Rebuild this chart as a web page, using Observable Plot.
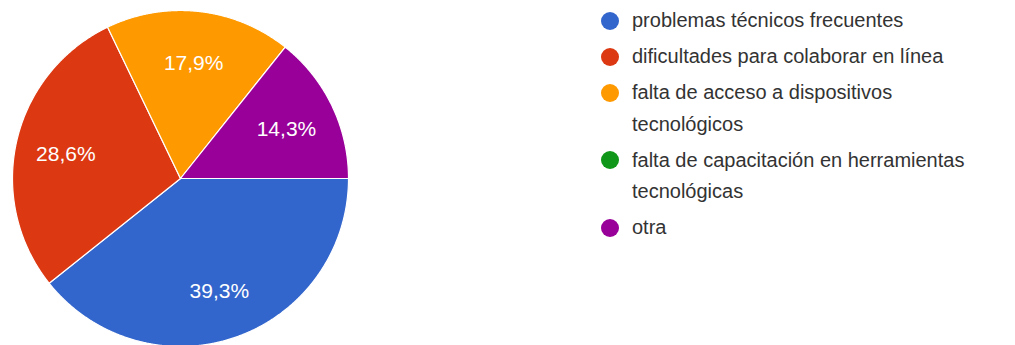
<!DOCTYPE html>
<html>
<head>
<meta charset="utf-8">
<script src="https://cdn.jsdelivr.net/npm/d3@7"></script>
<script src="https://cdn.jsdelivr.net/npm/@observablehq/plot@0.6"></script>
<style>
  html, body { margin: 0; padding: 0; background: #fff; }
  #wrap { position: relative; width: 1015px; height: 345px; overflow: hidden; font-family: Arial, "Liberation Sans", sans-serif; }
  #legend { position: absolute; left: 0; top: 0; }
  .sw { position: absolute; width: 18px; height: 18px; border-radius: 50%; }
  .lab { position: absolute; white-space: nowrap; font-size: 20px; color: #333; }
</style>
</head>
<body>
<div id="wrap"></div>
<script>
const categories = [
  "problemas técnicos frecuentes",
  "dificultades para colaborar en línea",
  "falta de acceso a dispositivos tecnológicos",
  "falta de capacitación en herramientas tecnológicas",
  "otra"
];
const counts = [11, 8, 5, 0, 4];
const percentLabels = ["39,3%", "28,6%", "17,9%", "0%", "14,3%"];
const colors = ["#3366cc", "#dc3912", "#ff9900", "#109618", "#990099"];
const legendLines = [
  ["problemas técnicos frecuentes"],
  ["dificultades para colaborar en línea"],
  ["falta de acceso a dispositivos", "tecnológicos"],
  ["falta de capacitación en herramientas", "tecnológicas"],
  ["otra"]
];

const data = categories.map((c, i) => ({cat: c, value: counts[i], label: percentLabels[i]}));
const arcs = d3.pie().sort(null).value(d => d.value)
  .startAngle(Math.PI / 2).endAngle(Math.PI / 2 + 2 * Math.PI)(data);

// polygon outline of each slice in unit-circle coordinates
const slicePts = [];
for (const a of arcs) {
  if (a.endAngle - a.startAngle <= 0) continue;
  slicePts.push({cat: a.data.cat, x: 0, y: 0});
  const n = Math.max(2, Math.ceil((a.endAngle - a.startAngle) / 0.005));
  for (let k = 0; k <= n; k++) {
    const t = a.startAngle + (a.endAngle - a.startAngle) * k / n;
    slicePts.push({cat: a.data.cat, x: Math.sin(t), y: Math.cos(t)});
  }
  slicePts.push({cat: a.data.cat, x: 0, y: 0});
}
const labelPts = arcs.filter(a => a.value > 0).map(a => {
  const m = (a.startAngle + a.endAngle) / 2;
  return {label: a.data.label, x: 0.7 * Math.sin(m), y: 0.7 * Math.cos(m)};
});

const chart = Plot.plot({
  width: 1015,
  height: 345,
  margin: 0,
  x: {domain: [-1, 1], range: [12, 348], axis: null},
  y: {domain: [-1, 1], range: [346, 10], axis: null},
  color: {domain: categories, range: colors},
  style: {background: "transparent", fontFamily: "Arial, 'Liberation Sans', sans-serif"},
  marks: [
    Plot.line(slicePts, {x: "x", y: "y", z: "cat", fill: "cat", stroke: "white", strokeWidth: 1.2, strokeLinejoin: "round"}),
    Plot.text(labelPts, {x: "x", y: "y", text: "label", fill: "white", fontSize: 21, dy: 2})
  ]
});
const wrap = document.getElementById("wrap");
wrap.appendChild(chart);

// legend (HTML overlay) using the chart's color scale
const colorScale = chart.scale("color");
const legend = document.createElement("div");
legend.id = "legend";
wrap.appendChild(legend);
const lineH = 31.5, gap = 4.5;
let yTop = 5;
categories.forEach((c, i) => {
  const lines = legendLines[i];
  const sw = document.createElement("div");
  sw.className = "sw";
  sw.style.left = "601px";
  sw.style.top = (yTop + lineH / 2 - 9) + "px";
  sw.style.background = colorScale.range[i];
  legend.appendChild(sw);
  lines.forEach((t, j) => {
    const lab = document.createElement("div");
    lab.className = "lab";
    lab.style.left = "632px";
    lab.style.top = (yTop + j * lineH) + "px";
    lab.style.lineHeight = lineH + "px";
    lab.textContent = t;
    legend.appendChild(lab);
  });
  yTop += lines.length * lineH + gap;
});
</script>
</body>
</html>
